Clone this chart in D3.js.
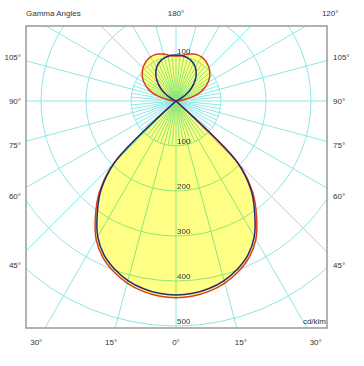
<!DOCTYPE html>
<html>
<head>
<meta charset="utf-8">
<script src="https://cdn.jsdelivr.net/npm/d3@7"></script>
<style>
  body { margin: 0; background: #fff; }
  text { font-family: "Liberation Sans", Arial, sans-serif; fill: #333; }
</style>
</head>
<body>
<svg width="364" height="366"></svg>
<script>
// gamma angles (deg from nadir) and intensities in cd/klm
const gammaAngles = [0, 5, 10, 15, 20, 25, 30, 35, 40, 45, 50, 55, 60, 65, 70, 75, 80, 85, 90,
    95, 100, 105, 110, 115, 120, 125, 130, 135, 140, 145, 150, 155, 160, 165, 170, 175, 180];
const planeC0 = [437, 435, 429, 419, 404, 384, 355, 312, 265, 196, 0, 0, 0, 0, 0, 0, 0, 0, 0,
    8, 20, 40, 58, 71, 82, 91, 98, 104, 108, 111, 113, 113, 111, 108, 104, 101, 100];
const planeC90 = [431, 429, 423, 413, 398, 378, 348, 305, 260, 192, 0, 0, 0, 0, 0, 0, 0, 0, 0,
    0, 0, 0, 0, 6, 17, 31, 45, 57, 69, 78, 86, 92, 96, 99, 101, 102, 102];

const ringValues = [100, 200, 300, 400, 500];
const sideTicks = [105, 90, 75, 60, 45];
const bottomTicks = [-30, -15, 0, 15, 30];

const cx = 176, cy = 101;
const frame = {x0: 26, y0: 26, x1: 327, y1: 328};

const svg = d3.select('svg');
const r = d3.scaleLinear().domain([0, 500]).range([0, 225]);
const rad = d => d * Math.PI / 180;

svg.append('defs').append('clipPath')
    .attr('id', 'frame-clip')
    .append('rect')
        .attr('x', frame.x0)
        .attr('y', frame.y0)
        .attr('width', frame.x1 - frame.x0)
        .attr('height', frame.y1 - frame.y0);

const plot = svg.append('g')
    .attr('clip-path', 'url(#frame-clip)');
const g = plot.append('g')
    .attr('transform', `translate(${cx},${cy})`);

// closed curve: left half from 180 down to 0, then right half back up
const curvePoints = values => {
    const left = gammaAngles.map((a, i) => [Math.PI + rad(a), r(values[i])]).reverse();
    const right = gammaAngles.map((a, i) => [Math.PI - rad(a), r(values[i])]);
    return left.concat(right.slice(1));
};
const line = d3.lineRadial()
    .angle(d => d[0])
    .radius(d => d[1])
    .curve(d3.curveCatmullRomClosed.alpha(0.5));

// fill
[planeC0, planeC90].forEach(v => {
    g.append('path')
        .attr('d', line(curvePoints(v)))
        .attr('fill', '#ffff85')
        .attr('stroke', 'none');
});

// grid (multiplied so it turns green over the yellow)
const grid = g.append('g')
    .attr('stroke', '#8de6e6')
    .attr('fill', 'none')
    .style('mix-blend-mode', 'multiply');

grid.selectAll('.ring')
    .data(ringValues)
    .join('circle')
        .attr('class', 'ring')
        .attr('r', d => r(d));

// 15° spokes run to the frame, the 5° ones only inside the first ring
const spokes = d3.range(0, 360, 5).map(a => ({a, len: a % 15 === 0 ? 400 : r(100)}));
grid.selectAll('.spoke')
    .data(spokes)
    .join('line')
        .attr('class', 'spoke')
        .attr('x1', 0).attr('y1', 0)
        .attr('x2', d => d.len * Math.sin(rad(d.a)))
        .attr('y2', d => d.len * Math.cos(rad(d.a)));

// curves
g.append('path')
    .attr('d', line(curvePoints(planeC0)))
    .attr('fill', 'none')
    .attr('stroke', '#d8401c')
    .attr('stroke-width', 1.5);
g.append('path')
    .attr('d', line(curvePoints(planeC90)))
    .attr('fill', 'none')
    .attr('stroke', '#28287a')
    .attr('stroke-width', 1.5);

// ring labels
g.selectAll('.ring-label')
    .data(ringValues)
    .join('text')
        .attr('class', 'ring-label')
        .attr('x', 1)
        .attr('y', d => r(d) - 2)
        .attr('font-size', 8)
        .text(d => d);
g.append('text')
    .attr('x', 1)
    .attr('y', -r(100) - 2)
    .attr('font-size', 8)
    .text(100);

// frame
svg.append('rect')
    .attr('x', frame.x0)
    .attr('y', frame.y0)
    .attr('width', frame.x1 - frame.x0)
    .attr('height', frame.y1 - frame.y0)
    .attr('fill', 'none')
    .attr('stroke', '#999')
    .attr('stroke-width', 1.5);

// angle labels
const labels = svg.append('g').attr('font-size', 8);
sideTicks.forEach(a => {
    const y = cy + (cx - 12) * Math.cos(rad(a)) / Math.sin(rad(a));
    labels.append('text')
        .attr('x', 21).attr('y', y + 3)
        .attr('text-anchor', 'end')
        .text(a + '°');
    labels.append('text')
        .attr('x', 333).attr('y', y + 3)
        .text(a + '°');
});
bottomTicks.forEach(a => {
    labels.append('text')
        .attr('x', cx + 242 * Math.tan(rad(a)))
        .attr('y', 345)
        .attr('text-anchor', 'middle')
        .text(Math.abs(a) + '°');
});
labels.append('text').attr('x', 26).attr('y', 16).text('Gamma Angles');
labels.append('text').attr('x', cx).attr('y', 16).attr('text-anchor', 'middle').text('180°');
labels.append('text')
    .attr('x', cx + 89 / Math.tan(rad(30)))
    .attr('y', 16)
    .attr('text-anchor', 'middle')
    .text('120°');
labels.append('text')
    .attr('x', frame.x1 - 1)
    .attr('y', frame.y1 - 4)
    .attr('text-anchor', 'end')
    .text('cd/klm');
</script>
</body>
</html>
